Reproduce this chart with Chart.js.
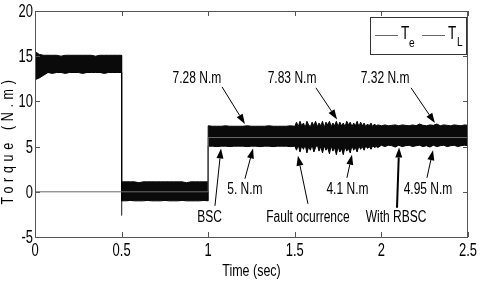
<!DOCTYPE html>
<html>
<head>
<meta charset="utf-8">
<script src="https://cdn.jsdelivr.net/npm/chart.js@4"></script>
<style>
  html, body { margin: 0; padding: 0; background: #fff; }
</style>
</head>
<body>
<canvas id="miGrafica" width="480" height="285"></canvas>
<script>
// tiempo (s) y envolvente del par electromagnetico Te (N.m)
const tiempo = [
  0,0.025,0.05,0.075,0.1,0.125,0.15,0.175,0.2,0.225,0.25,0.275,0.3,0.325,0.35,0.375,0.4,0.425,0.45,0.475,0.5,
  0.5,0.525,0.55,0.575,0.6,0.625,0.65,0.675,0.7,0.725,0.75,0.775,0.8,0.825,0.85,0.875,0.9,0.925,0.95,0.975,1,
  1,1.025,1.05,1.075,1.1,1.125,1.15,1.175,1.2,1.225,1.25,1.275,1.3,1.325,1.35,1.375,1.4,1.425,1.45,1.475,1.5,
  1.51,1.52,1.53,1.54,1.55,1.56,1.57,1.58,1.59,1.6,1.61,1.62,1.63,1.64,1.65,1.66,1.67,1.68,1.69,1.7,
  1.71,1.72,1.73,1.74,1.75,1.76,1.77,1.78,1.79,1.8,1.81,1.82,1.83,1.84,1.85,1.86,1.87,1.88,1.89,1.9,
  1.91,1.92,1.93,1.94,1.95,1.96,1.97,1.98,
  2,2.02,2.04,2.06,2.08,2.1,2.12,2.14,2.16,2.18,2.2,2.22,2.24,2.26,2.28,2.3,2.32,2.34,2.36,2.38,2.4,2.42,2.44,2.46,2.48,2.5
];
const te_superior = [
  15.5,15.2,15.1,15.1,15.1,15.1,15.0,15.1,15.1,15.1,15.1,15.1,15.1,15.1,15.0,15.1,15.1,15.1,15.1,15.1,15.1,
  1.1,1.1,1.1,1.1,1.0,1.1,1.1,1.1,1.1,1.1,1.1,1.1,1.1,1.1,1.1,1.0,1.1,1.1,1.1,1.1,1.1,
  7.3,7.25,7.25,7.25,7.3,7.25,7.25,7.25,7.25,7.3,7.25,7.25,7.25,7.25,7.3,7.25,7.25,7.25,7.25,7.3,7.25,
  7.7,7.2,7.8,7.3,7.6,7.1,7.8,7.4,7.2,7.7,7.3,7.8,7.2,7.6,7.3,7.8,7.1,7.7,7.4,7.8,
  7.2,7.6,7.3,7.8,7.2,7.7,7.3,7.6,7.2,7.8,7.4,7.7,7.2,7.6,7.3,7.8,7.2,7.7,7.3,7.6,
  7.2,7.5,7.3,7.6,7.2,7.5,7.3,7.4,
  7.3,7.4,7.3,7.35,7.4,7.3,7.4,7.35,7.3,7.4,7.3,7.5,7.35,7.3,7.4,7.35,7.5,7.3,7.4,7.35,7.3,7.4,7.35,7.3,7.4,7.35
];
const te_inferior = [
  12.4,12.6,12.9,13.2,13.1,13.2,13.2,13.1,13.2,13.2,13.2,13.1,13.2,13.2,13.2,13.2,13.1,13.2,13.2,13.2,13.2,
  -1.0,-1.0,-0.95,-1.0,-1.0,-1.0,-0.95,-1.0,-1.0,-1.0,-0.95,-1.0,-1.0,-1.0,-0.95,-1.0,-1.0,-1.0,-1.0,-0.95,-1.0,
  5.05,5.05,5.0,5.05,5.05,5.0,5.05,5.05,5.05,5.0,5.05,5.05,5.0,5.05,5.05,5.0,5.05,5.05,5.05,5.0,5.05,
  4.6,5.2,4.4,5.1,4.7,5.2,4.3,5.0,4.6,5.2,4.4,4.9,5.2,4.5,5.0,4.3,5.1,4.6,4.9,4.2,
  5.1,4.5,4.9,4.1,5.0,4.4,4.8,4.1,5.0,4.5,4.8,4.3,5.1,4.6,4.9,4.4,5.1,4.7,5.0,4.6,
  5.1,4.8,5.0,4.7,5.1,4.9,5.0,4.9,
  5.15,5.0,5.15,5.1,4.95,5.15,5.0,5.1,5.15,5.0,5.1,5.15,5.0,5.1,4.95,5.15,5.0,5.1,5.15,5.0,5.1,5.15,5.0,5.1,5.15,5.1
];
// pico de Te al cambiar de carga en t = 0.5 s
const pico_tiempo = [0.5, 0.5];
const pico_te = [-1.0, -2.6];
// par de carga TL
const tl_tiempo = [0, 1, 1, 2.5];
const tl_valores = [0, 0, 6, 6];
// marcas de los ejes
const marcas_x = [0, 0.5, 1, 1.5, 2, 2.5];
const marcas_y = [-5, 0, 5, 10, 15, 20];

// anotaciones: texto en (tx, ty), flecha de (x1, y1) a (x2, y2), en unidades de datos
const anotaciones = [
  {texto: '7.28 N.m', tx: 0.935, ty: 12.5, x1: 1.080, y1: 11.6, x2: 1.212, y2: 7.5},
  {texto: '7.83 N.m', tx: 1.484, ty: 12.5, x1: 1.622, y1: 11.5, x2: 1.744, y2: 8.0},
  {texto: '7.32 N.m', tx: 2.021, ty: 12.5, x1: 2.171, y1: 11.5, x2: 2.309, y2: 7.6},
  {texto: 'BSC', tx: 1.008, ty: -2.88, x1: 1.039, y1: -1.55, x2: 1.074, y2: 4.8},
  {texto: '5. N.m', tx: 1.212, ty: 0.22, x1: 1.212, y1: 1.44, x2: 1.259, y2: 4.8},
  {texto: 'Fault ocurrence', tx: 1.576, ty: -2.88, x1: 1.576, y1: -1.33, x2: 1.518, y2: 4.0},
  {texto: '4.1 N.m', tx: 1.804, ty: 0.22, x1: 1.801, y1: 1.55, x2: 1.830, y2: 4.1},
  {texto: 'With RBSC', tx: 2.085, ty: -2.88, x1: 2.090, y1: -1.77, x2: 2.102, y2: 4.9, grueso: true},
  {texto: '4.95 N.m', tx: 2.269, ty: 0.22, x1: 2.263, y1: 1.55, x2: 2.298, y2: 4.6}
];

const fuente = "'Liberation Sans', Arial, sans-serif";
const canva_grafica = document.getElementById('miGrafica').getContext('2d');

const aPuntos = (xs, ys) => xs.map((x, i) => ({x: x, y: ys[i]}));

// texto estrecho, como el Helvetica comprimido de la figura original
const textoEstrecho = (ctx, texto, x, y, escala) => {
  ctx.save();
  ctx.translate(x, y);
  ctx.scale(escala, 1);
  ctx.fillText(texto, 0, 0);
  ctx.restore();
};

const dibujarFlecha = (ctx, x1, y1, x2, y2, grosor) => {
  ctx.strokeStyle = '#000';
  ctx.fillStyle = '#000';
  ctx.lineWidth = grosor;
  const ang = Math.atan2(y2 - y1, x2 - x1);
  const largo = 10, ancho = 3.5;
  const bx = x2 - largo * Math.cos(ang), by = y2 - largo * Math.sin(ang);
  ctx.beginPath();
  ctx.moveTo(x1, y1);
  ctx.lineTo(bx, by);
  ctx.stroke();
  ctx.beginPath();
  ctx.moveTo(x2, y2);
  ctx.lineTo(bx + ancho * Math.sin(ang), by - ancho * Math.cos(ang));
  ctx.lineTo(bx - ancho * Math.sin(ang), by + ancho * Math.cos(ang));
  ctx.closePath();
  ctx.fill();
};

const extras = {
  id: 'extras',
  afterDraw(chart) {
    const ctx = chart.ctx;
    const area = chart.chartArea;
    const ex = chart.scales.x, ey = chart.scales.y;
    ctx.save();

    // marco y marcas interiores
    ctx.strokeStyle = '#555';
    ctx.lineWidth = 1;
    ctx.strokeRect(area.left + 0.5, area.top + 0.5, area.right - area.left - 1, area.bottom - area.top);
    ctx.beginPath();
    marcas_x.forEach(v => {
      const px = Math.round(ex.getPixelForValue(v)) + 0.5;
      ctx.moveTo(px, area.bottom); ctx.lineTo(px, area.bottom - 5);
      ctx.moveTo(px, area.top); ctx.lineTo(px, area.top + 5);
    });
    marcas_y.forEach(v => {
      const py = Math.round(ey.getPixelForValue(v)) + 0.5;
      ctx.moveTo(area.left, py); ctx.lineTo(area.left + 5, py);
      ctx.moveTo(area.right, py); ctx.lineTo(area.right - 5, py);
    });
    ctx.stroke();

    // etiquetas de las marcas
    ctx.fillStyle = '#000';
    ctx.font = '18px ' + fuente;
    ctx.textBaseline = 'middle';
    ctx.textAlign = 'center';
    marcas_x.forEach(v => textoEstrecho(ctx, String(v), ex.getPixelForValue(v), area.bottom + 14, 0.72));
    ctx.textAlign = 'right';
    marcas_y.forEach(v => textoEstrecho(ctx, String(v), area.left - 2, ey.getPixelForValue(v) + 1, 0.72));

    // anotaciones
    ctx.font = '16px ' + fuente;
    ctx.textAlign = 'center';
    anotaciones.forEach(a => {
      dibujarFlecha(ctx, ex.getPixelForValue(a.x1), ey.getPixelForValue(a.y1),
        ex.getPixelForValue(a.x2), ey.getPixelForValue(a.y2), a.grueso ? 2 : 1);
      ctx.fillStyle = '#000';
      textoEstrecho(ctx, a.texto, ex.getPixelForValue(a.tx), ey.getPixelForValue(a.ty), 0.75);
    });

    // leyenda
    const lx = area.right - 98, ly = area.top + 6;
    ctx.fillStyle = '#fff';
    ctx.fillRect(lx, ly, 96, 37);
    ctx.strokeStyle = '#333';
    ctx.lineWidth = 1;
    ctx.strokeRect(lx + 0.5, ly + 0.5, 96, 37);
    ctx.strokeStyle = '#666';
    ctx.beginPath();
    ctx.moveTo(lx + 5, ly + 18.5); ctx.lineTo(lx + 28, ly + 18.5);
    ctx.moveTo(lx + 52, ly + 18.5); ctx.lineTo(lx + 75, ly + 18.5);
    ctx.stroke();
    ctx.fillStyle = '#000';
    ctx.textAlign = 'left';
    ctx.font = '18px ' + fuente;
    textoEstrecho(ctx, 'T', lx + 31, ly + 17, 0.75);
    textoEstrecho(ctx, 'T', lx + 78, ly + 17, 0.75);
    ctx.font = '12px ' + fuente;
    textoEstrecho(ctx, 'e', lx + 39, ly + 27, 0.85);
    textoEstrecho(ctx, 'L', lx + 87, ly + 26, 0.85);

    // titulos de los ejes
    ctx.textAlign = 'center';
    ctx.font = '16px ' + fuente;
    textoEstrecho(ctx, 'Time (sec)', (area.left + area.right) / 2, 272, 0.78);
    ctx.translate(9, 143);
    ctx.rotate(-Math.PI / 2);
    ctx.letterSpacing = '6px';
    textoEstrecho(ctx, 'Torque (N.m)', 3, 0, 0.78);
    ctx.restore();
  }
};

new Chart(canva_grafica, {
  type: 'line',
  data: {
    datasets: [
      {
        label: 'Te sup',
        data: aPuntos(tiempo, te_superior),
        borderColor: '#000',
        borderWidth: 1,
        pointRadius: 0,
        fill: false,
        order: 2
      },
      {
        label: 'Te inf',
        data: aPuntos(tiempo, te_inferior),
        borderColor: '#000',
        borderWidth: 1,
        backgroundColor: '#0a0a0a',
        pointRadius: 0,
        fill: '-1',
        order: 1
      },
      {
        label: 'Te pico',
        data: aPuntos(pico_tiempo, pico_te),
        borderColor: '#444',
        borderWidth: 1,
        pointRadius: 0,
        fill: false,
        order: 1
      },
      {
        label: 'TL',
        data: aPuntos(tl_tiempo, tl_valores),
        borderColor: '#6a6a6a',
        borderWidth: 1,
        pointRadius: 0,
        fill: false,
        order: 0
      }
    ]
  },
  options: {
    responsive: false,
    animation: false,
    events: [],
    layout: {padding: {top: 11, right: 12, left: 0, bottom: 0}},
    elements: {line: {tension: 0}},
    plugins: {legend: {display: false}, tooltip: {enabled: false}},
    scales: {
      x: {
        type: 'linear',
        min: 0,
        max: 2.5,
        grid: {display: false},
        border: {display: false},
        afterBuildTicks: (escala) => { escala.ticks = marcas_x.map(v => ({value: v})); },
        afterFit: (escala) => { escala.height = 48; },
        ticks: {display: false}
      },
      y: {
        type: 'linear',
        min: -5,
        max: 20,
        grid: {display: false},
        border: {display: false},
        afterBuildTicks: (escala) => { escala.ticks = marcas_y.map(v => ({value: v})); },
        afterFit: (escala) => { escala.width = 35; },
        ticks: {display: false}
      }
    }
  },
  plugins: [extras]
});
</script>
</body>
</html>
